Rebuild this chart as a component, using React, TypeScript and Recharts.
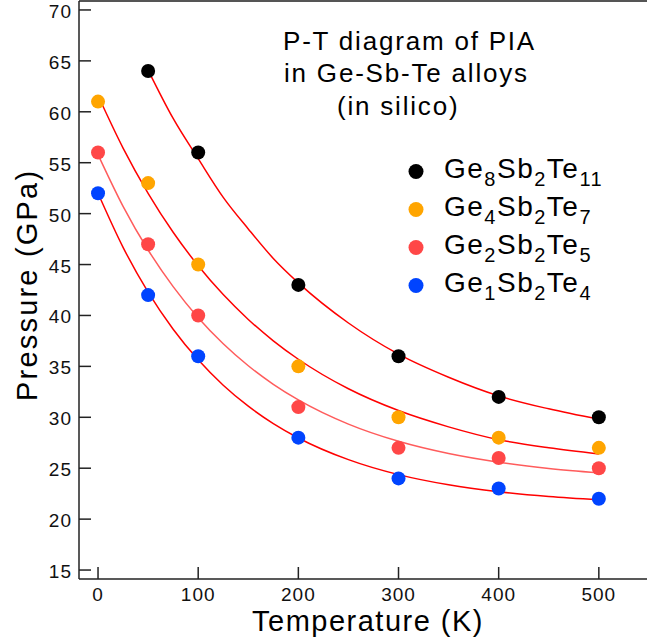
import { ComposedChart, Legend, Line, ReferenceLine, Scatter, XAxis, YAxis } from 'recharts';

// measured points (K, GPa)
const temps = [0, 50, 100, 200, 300, 400, 500];
const ge8Temps = [50, 100, 200, 300, 400, 500];
const ge8Values = [64, 56, 43, 36, 32, 30];
const ge4Values = [61, 53, 45, 35, 30, 28, 27];
const ge2Values = [56, 47, 40, 31, 27, 26, 25];
const ge1Values = [52, 42, 36, 28, 24, 23, 22];

// fitted curves
const curveTemps = [0, 25, 50, 75, 100, 125, 150, 175, 200, 250, 300, 350, 400, 450, 500];
const ge8CurveTemps = [50, 75, 100, 125, 150, 175, 200, 250, 300, 350, 400, 450, 500];
const ge8Curve = [64.1, 59.35, 55.4, 51.6, 48.5, 45.6, 43.2, 39.26, 36.2, 33.93, 32.1, 30.83, 29.8];
const ge4Curve = [61.6, 56.44, 52.0, 48.17, 44.88, 42.05, 39.61, 37.51, 35.7, 32.8, 30.66, 29.06, 27.8, 27.0, 26.4];
const ge2Curve = [55.8, 50.72, 46.43, 42.83, 39.78, 37.22, 35.06, 33.24, 31.71, 29.33, 27.64, 26.44, 25.59, 24.98, 24.55];
const ge1Curve = [52.0, 46.69, 42.29, 38.65, 35.64, 33.15, 31.09, 29.38, 27.97, 25.84, 24.37, 23.37, 22.69, 22.22, 21.9];

const xTicks = [0, 100, 200, 300, 400, 500];
const yTicks = [15, 20, 25, 30, 35, 40, 45, 50, 55, 60, 65, 70];
const titleLines = ['P-T diagram of PIA', 'in Ge-Sb-Te alloys', '(in silico)'];

const toPoints = (ts: number[], ps: number[]) => ts.map((t, i) => ({ t, p: ps[i] }));

const series = [
  { name: 'Ge8Sb2Te11', parts: ['Ge', '8', 'Sb', '2', 'Te', '11'], color: '#000000', line: '#ff0000', points: toPoints(ge8Temps, ge8Values), curve: toPoints(ge8CurveTemps, ge8Curve) },
  { name: 'Ge4Sb2Te7', parts: ['Ge', '4', 'Sb', '2', 'Te', '7'], color: '#ffa500', line: '#ff0000', points: toPoints(temps, ge4Values), curve: toPoints(curveTemps, ge4Curve) },
  { name: 'Ge2Sb2Te5', parts: ['Ge', '2', 'Sb', '2', 'Te', '5'], color: '#ff4747', line: '#ff5c5c', points: toPoints(temps, ge2Values), curve: toPoints(curveTemps, ge2Curve) },
  { name: 'Ge1Sb2Te4', parts: ['Ge', '1', 'Sb', '2', 'Te', '4'], color: '#0044ff', line: '#ff0000', points: toPoints(temps, ge1Values), curve: toPoints(curveTemps, ge1Curve) },
];

const FONT = '"Liberation Sans", Arial, sans-serif';
const AXIS = '#222';

const YTick = (p: any) => (
  <g>
    <line x1={p.x} x2={p.x + 12} y1={p.y} y2={p.y} stroke={AXIS} strokeWidth={1.5} />
    <text x={p.x - 7} y={p.y + 8} textAnchor="end" fontSize={19} letterSpacing={1} fontFamily={FONT} fill="#111">
      {p.payload.value}
    </text>
  </g>
);

const XTick = (p: any) => (
  <g>
    <line x1={p.x} x2={p.x} y1={p.y} y2={p.y - 12} stroke={AXIS} strokeWidth={1.5} />
    <text x={p.x} y={p.y + 22} textAnchor="middle" fontSize={19} letterSpacing={1} fontFamily={FONT} fill="#111">
      {p.payload.value}
    </text>
  </g>
);

const LegendBox = () => (
  <svg width={230} height={160}>
    {series.map((s, i) => {
      const base = 28 + i * 38;
      return (
        <g key={s.name}>
          <circle cx={11} cy={base - 6.5} r={7.5} fill={s.color} />
          <text x={39} y={base} fontSize={28} fontFamily={FONT} letterSpacing={1.5} fill="#000">
            <tspan>{s.parts[0]}</tspan>
            <tspan dy={8} fontSize={20}>{s.parts[1]}</tspan>
            <tspan dy={-8} fontSize={28}>{s.parts[2]}</tspan>
            <tspan dy={8} fontSize={20}>{s.parts[3]}</tspan>
            <tspan dy={-8} fontSize={28}>{s.parts[4]}</tspan>
            <tspan dy={8} fontSize={20}>{s.parts[5]}</tspan>
          </text>
        </g>
      );
    })}
  </svg>
);

export default function App() {
  return (
    <div style={{ position: 'fixed', left: 0, top: 0, width: 647, height: 638, overflow: 'hidden', background: '#fff' }}>
      <ComposedChart width={700} height={638} margin={{ top: 1, right: 0, bottom: 0, left: 0 }}>
        <XAxis
          dataKey="t"
          type="number"
          domain={[-19, 601]}
          ticks={xTicks}
          allowDataOverflow
          height={59}
          tickLine={false}
          tickSize={0}
          tickMargin={0}
          tick={<XTick />}
          axisLine={{ stroke: AXIS, strokeWidth: 1.5 }}
        />
        <YAxis
          type="number"
          domain={[14.12, 70.88]}
          ticks={yTicks}
          allowDataOverflow
          width={79}
          tickLine={false}
          tickSize={0}
          tickMargin={0}
          tick={<YTick />}
          axisLine={{ stroke: AXIS, strokeWidth: 1.5 }}
        />
        <ReferenceLine y={70.88} stroke="#555" strokeWidth={2} />
        {series.map((s) => (
          <Scatter
            key={`pts-${s.name}`}
            name={s.name}
            data={s.points}
            dataKey="p"
            fill={s.color}
            isAnimationActive={false}
            shape={(props: any) => <circle cx={props.cx} cy={props.cy} r={7} fill={s.color} />}
          />
        ))}
        {series.map((s) => (
          <Line
            key={`fit-${s.name}`}
            data={s.curve}
            dataKey="p"
            type="monotone"
            stroke={s.line}
            strokeWidth={1.5}
            dot={false}
            activeDot={false}
            legendType="none"
            isAnimationActive={false}
          />
        ))}
        <Legend
          layout="vertical"
          align="center"
          verticalAlign="middle"
          content={<LegendBox />}
          wrapperStyle={{ left: 405, top: 150, width: 230, height: 160 }}
        />
      </ComposedChart>
      <svg width={647} height={638} style={{ position: 'absolute', left: 0, top: 0, pointerEvents: 'none' }}>
        <g fontFamily={FONT} fontSize={26} letterSpacing={1.8} fill="#000">
          <text x={283} y={50}>{titleLines[0]}</text>
          <text x={284} y={82}>{titleLines[1]}</text>
          <text x={337} y={115}>{titleLines[2]}</text>
        </g>
        <text x={252} y={631} fontFamily={FONT} fontSize={29} letterSpacing={1.5} fill="#000">
          Temperature (K)
        </text>
        <text
          transform="translate(37, 401) rotate(-90)"
          x={0}
          y={0}
          fontFamily={FONT}
          fontSize={29}
          letterSpacing={2.2}
          fill="#000"
        >
          Pressure (GPa)
        </text>
      </svg>
    </div>
  );
}
